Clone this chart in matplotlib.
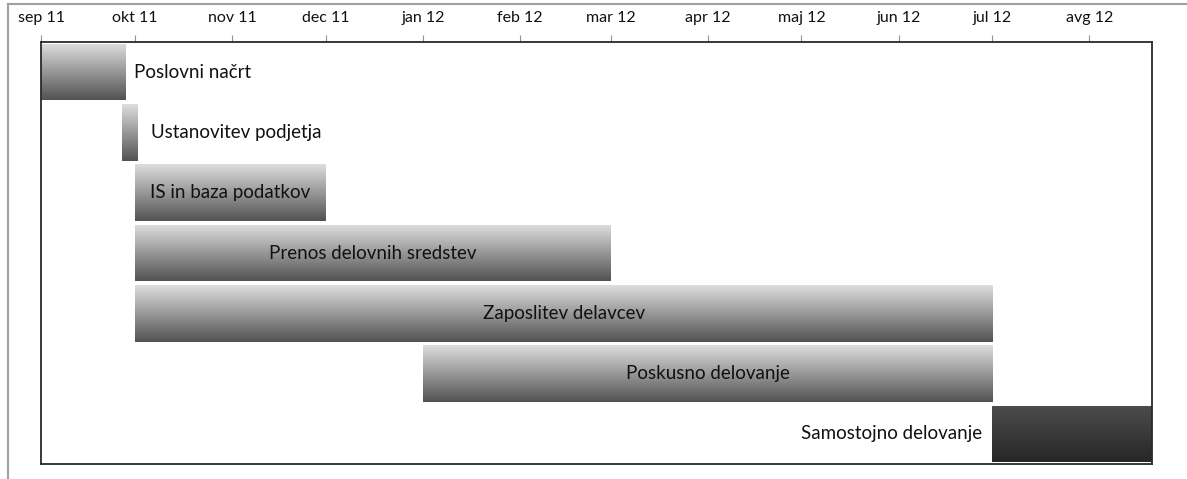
import numpy as np
import matplotlib
matplotlib.use("Agg")
from matplotlib import pyplot as plt
import matplotlib.dates as mdates
from matplotlib.lines import Line2D
from matplotlib.colors import LinearSegmentedColormap
from datetime import date

tasks = ["Poslovni načrt", "Ustanovitev podjetja", "IS in baza podatkov",
         "Prenos delovnih sredstev", "Zaposlitev delavcev",
         "Poskusno delovanje", "Samostojno delovanje"]
starts = [date(2011, 9, 1), date(2011, 9, 27), date(2011, 10, 1),
          date(2011, 10, 1), date(2011, 10, 1), date(2012, 1, 1),
          date(2012, 7, 1)]
ends = [date(2011, 9, 28), date(2011, 10, 2), date(2011, 12, 1),
        date(2012, 3, 1), date(2012, 7, 1), date(2012, 7, 1),
        date(2012, 8, 21)]
month_ticks = [date(2011, m, 1) for m in range(9, 13)] + \
              [date(2012, m, 1) for m in range(1, 9)]
month_labels = ["sep 11", "okt 11", "nov 11", "dec 11", "jan 12", "feb 12",
                "mar 12", "apr 12", "maj 12", "jun 12", "jul 12", "avg 12"]
x_range = (date(2011, 9, 1), date(2012, 8, 21))

plt.rcParams['font.family'] = ['Lato', 'DejaVu Sans']

fig = plt.figure(figsize=(11.87, 4.79), dpi=100)
ax = fig.add_axes([41/1187, 1-464/479, (1152-41)/1187, (464-42)/479])

s = mdates.date2num(starts)
e = mdates.date2num(ends)
y = np.arange(len(tasks))
bars = ax.barh(y, e - s, left=s, height=0.94, color='none', edgecolor='none')

# vertical grey gradient inside each bar
grad = np.linspace(0, 1, 256).reshape(-1, 1)
light = LinearSegmentedColormap.from_list('light', ['#dedede', '#525252'])
dark = LinearSegmentedColormap.from_list('dark', ['#4c4c4c', '#272727'])
for i, b in enumerate(bars):
    x0, y0 = b.get_x(), b.get_y()
    w, h = b.get_width(), b.get_height()
    cm = dark if i == len(tasks) - 1 else light
    im = ax.imshow(grad, cmap=cm, aspect='auto',
                   extent=(x0, x0 + w, y0 + h, y0), zorder=2)
    im.set_clip_path(b)

ax.set_xlim(mdates.date2num(x_range[0]), mdates.date2num(x_range[1]))
ax.set_ylim(len(tasks) - 0.5, -0.5)

# labels
fs = 13.5
label_side = ['right', 'right', 'center', 'center', 'center', 'center', 'left']
for i, b in enumerate(bars):
    yc = b.get_y() + b.get_height() / 2
    if label_side[i] == 'right':
        ax.annotate(tasks[i], xy=(b.get_x() + b.get_width(), yc),
                    xytext=(9 if i == 0 else 13, 0), textcoords='offset pixels',
                    ha='left', va='center', fontsize=fs, color='#111111')
    elif label_side[i] == 'left':
        ax.annotate(tasks[i], xy=(b.get_x(), yc), xytext=(-10, 0),
                    textcoords='offset pixels', ha='right', va='center',
                    fontsize=fs, color='#111111')
    else:
        ax.text(b.get_x() + b.get_width() / 2, yc, tasks[i], ha='center',
                va='center', fontsize=fs, color='#111111', zorder=3)

ax.xaxis.tick_top()
ax.set_xticks(mdates.date2num(month_ticks))
ax.set_xticklabels(month_labels)
ax.tick_params(axis='x', direction='out', length=5, color='#909090',
               labelsize=11.5, pad=7, labelcolor='#111111')
ax.set_yticks([])
for sp in ax.spines.values():
    sp.set_color('#2a2a2a')
    sp.set_linewidth(1.3)

# outer chart frame (partly visible)
fig.add_artist(Line2D([8/1187, 8/1187], [0, 1-4/479], transform=fig.transFigure,
                      color='#a0a0a0', lw=1.5))
fig.add_artist(Line2D([8/1187, 1], [1-4/479, 1-4/479], transform=fig.transFigure,
                      color='#a0a0a0', lw=1.5))

fig.savefig('out.png', dpi=100)
